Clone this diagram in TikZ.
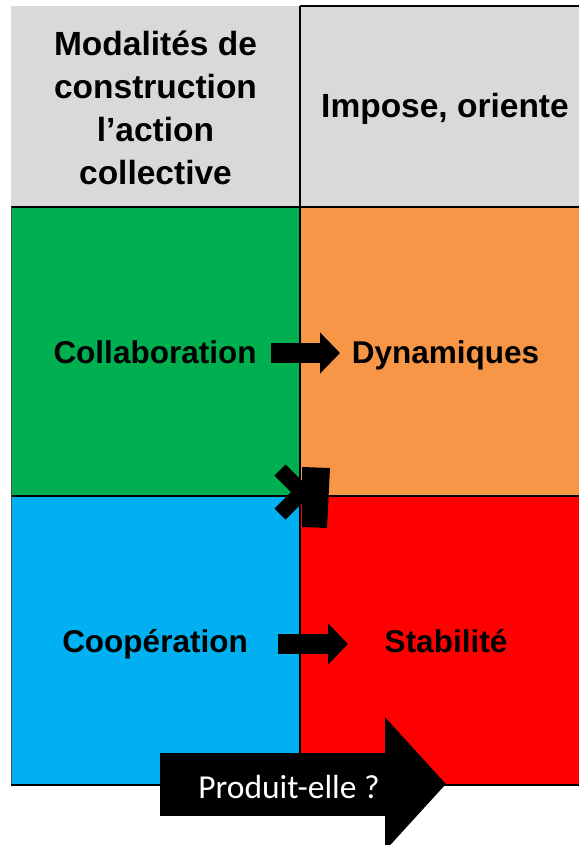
\documentclass[tikz,border=0pt]{standalone}
\usepackage{fontspec}
\setmainfont{Liberation Sans}
\newfontfamily\calib{Carlito}
\usetikzlibrary{arrows.meta}
\definecolor{hdr}{HTML}{D9D9D9}
\definecolor{cgreen}{HTML}{00B050}
\definecolor{corange}{HTML}{F79646}
\definecolor{cblue}{HTML}{00B0F0}
\definecolor{cred}{HTML}{FF0000}
\begin{document}
\begin{tikzpicture}[x=1pt,y=-1pt,
  cell/.style={inner sep=0pt, outer sep=0pt, draw=none},
  hdrtext/.style={align=center, inner sep=0pt, font=\fontsize{33.5}{43}\selectfont\bfseries},
  bodytext/.style={inner sep=0pt, anchor=base, font=\fontsize{31.5}{36}\selectfont\bfseries},
  grid/.style={line width=1.5pt, black},
  smallarrow/.style={line width=20pt, -{Triangle[length=20pt,width=40pt]}},
  bigarrow/.style={line width=63pt, -{Triangle[length=61pt,width=130pt]}}]
\useasboundingbox (0,0) rectangle (579,845);
\fill[white] (0,0) rectangle (579,845);
% cells
\node[cell, fill=hdr, minimum width=289pt, minimum height=201pt] (h1) at (155.5,106.5) {};
\node[cell, fill=hdr, minimum width=279pt, minimum height=201pt] (h2) at (439.5,106.5) {};
\node[cell, fill=cgreen, minimum width=289pt, minimum height=289pt] (c11) at (155.5,351.5) {};
\node[cell, fill=corange, minimum width=279pt, minimum height=289pt] (c12) at (439.5,351.5) {};
\node[cell, fill=cblue, minimum width=289pt, minimum height=289pt] (c21) at (155.5,640.5) {};
\node[cell, fill=cred, minimum width=279pt, minimum height=289pt] (c22) at (439.5,640.5) {};
% grid lines
\draw[grid] (300,6) -- (300,785);
\draw[grid] (300,6) -- (579,6);
\draw[grid] (11,207) -- (579,207);
\draw[grid] (11,496) -- (579,496);
\draw[line width=0.8pt, black!70] (11,207) -- (11,785);
\draw[line width=2pt] (11,785) -- (579,785);
% texts
\node[hdrtext] (t1) at (155.5,108) {Modalités de\\construction\\l’action\\collective};
\node[hdrtext, anchor=base] (t2) at (445,118) {Impose, oriente};
\node[bodytext] (collab) at (155,363) {Collaboration};
\node[bodytext] (dyn) at (445.5,363) {Dynamiques};
\node[bodytext] (coop) at (155,652) {Coopération};
\node[bodytext] (stab) at (446,652) {Stabilité};
% arrows
\coordinate (a1s) at (271,353);
\coordinate (a1e) at (340,353);
\draw[smallarrow] (a1s) -- (a1e);
\coordinate (a2s) at (278,644);
\coordinate (a2e) at (348,644);
\draw[smallarrow] (a2s) -- (a2e);
% crossed symbol
\fill[black] (274.5,475.5) -- (285.5,464.5) -- (321.5,500.5) -- (310.5,511.5) -- cycle;
\fill[black] (274.5,508.5) -- (285.5,519.5) -- (321.5,483.5) -- (310.5,472.5) -- cycle;
\fill[black] (302,467) -- (330,468) -- (327,528) -- (302,527) -- cycle;
% bottom arrow
\coordinate (bs) at (160,784);
\coordinate (be) at (446,784);
\draw[bigarrow] (bs) -- (be);
\node[text=white, inner sep=0pt, anchor=base, font=\calib\fontsize{33.5}{36}\selectfont] (prod) at (289,798) {Produit-elle ?};
\end{tikzpicture}
\end{document}
